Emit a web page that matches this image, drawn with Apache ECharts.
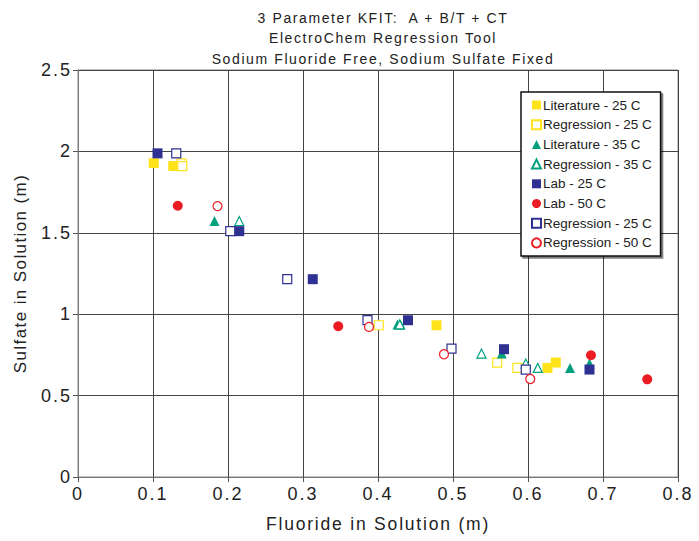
<!DOCTYPE html>
<html><head><meta charset="utf-8">
<script src="https://cdn.jsdelivr.net/npm/echarts@6/dist/echarts.min.js"></script>
<style>html,body{margin:0;padding:0;background:#fff}#c{width:699px;height:541px}</style>
</head><body><div id="c"></div>
<script>
const titleLines = ["3 Parameter KFIT:  A + B/T + CT", "ElectroChem Regression Tool", "Sodium Fluoride Free, Sodium Sulfate Fixed"];
const xName = "Fluoride in Solution (m)";
const yName = "Sulfate in Solution (m)";

const lit25 = [[0.101,1.928],[0.127,1.910],[0.478,0.932],[0.626,0.670],[0.637,0.703]];
const reg25y = [[0.138,1.926],[0.139,1.910],[0.401,0.932],[0.559,0.703],[0.586,0.670]];
const lit35 = [[0.182,1.572],[0.426,0.937],[0.430,0.937],[0.565,0.758],[0.656,0.670],[0.682,0.697]];
const reg35 = [[0.215,1.572],[0.429,0.937],[0.538,0.758],[0.597,0.697],[0.613,0.670]];
const lab25 = [[0.106,1.988],[0.215,1.510],[0.313,1.215],[0.440,0.963],[0.568,0.785],[0.682,0.660]];
const lab50 = [[0.133,1.666],[0.347,0.926],[0.684,0.748],[0.759,0.600]];
const reg25b = [[0.131,1.988],[0.203,1.510],[0.279,1.215],[0.386,0.963],[0.498,0.789],[0.597,0.660]];
const reg50 = [[0.186,1.664],[0.388,0.922],[0.488,0.754],[0.603,0.602]];

const YEL='#ffe31a', GRN='#00a07e', BLU='#2e3192', RED='#ec1c24';
function filled(name, data, sym, col){
  return {name, type:'scatter', data, symbol:sym, symbolSize:10,
    itemStyle:{color:col, opacity:1}};
}
function open(name, data, sym, col){
  return {name, type:'scatter', data, symbol:sym, symbolSize:9,
    itemStyle:{color:'#fff', borderColor:col, borderWidth:1.2, opacity:1}};
}
const chart = echarts.init(document.getElementById('c'), null, {renderer:'svg'});
const FONT = 'Liberation Sans, Arial, sans-serif';
chart.setOption({
  animation:false,
  textStyle:{fontFamily:FONT},
  title: titleLines.map((t,i)=>({text:t, left:378, top:6+i*20.3, textAlign:'center',
    textStyle:{fontSize:14, fontWeight:'normal', color:'#222', fontFamily:FONT}})),
  grid:{left:78, right:21, top:70, bottom:64, show:true, borderColor:'#888', borderWidth:1},
  xAxis:{type:'value', min:0, max:0.8, interval:0.1, name:xName, nameLocation:'middle', nameGap:38,
    nameTextStyle:{fontSize:17.5, color:'#222', fontFamily:FONT},
    axisLine:{show:true, lineStyle:{color:'#777'}}, axisTick:{show:true, length:5, lineStyle:{color:'#555'}},
    axisLabel:{fontSize:18, color:'#222', margin:8, fontFamily:FONT},
    splitLine:{show:true, lineStyle:{color:'#444', width:1}}},
  yAxis:{type:'value', min:0, max:2.5, interval:0.5, name:yName, nameLocation:'middle', nameGap:49,
    nameTextStyle:{fontSize:17, color:'#222', fontFamily:FONT},
    axisLine:{show:true, lineStyle:{color:'#777'}}, axisTick:{show:true, length:5, lineStyle:{color:'#555'}},
    axisLabel:{fontSize:18, color:'#222', margin:6, fontFamily:FONT},
    splitLine:{show:true, lineStyle:{color:'#444', width:1}}},
  legend:{orient:'vertical', left:521, top:92, backgroundColor:'#fff',
    borderColor:'#111', borderWidth:1.5, padding:[6,5,6,10], itemGap:5.7, itemWidth:9, itemHeight:9,
    textStyle:{fontSize:13.5, color:'#222', fontFamily:FONT, padding:[0,0,0,-3]},
    shadowColor:'rgba(0,0,0,0.5)', shadowOffsetX:2, shadowOffsetY:2, shadowBlur:0},
  series:[
    filled('Literature - 25 C', lit25, 'rect', YEL),
    open('Regression - 25 C ', reg25y, 'rect', YEL),
    filled('Literature - 35 C', lit35, 'triangle', GRN),
    open('Regression - 35 C', reg35, 'triangle', GRN),
    filled('Lab - 25 C', lab25, 'rect', BLU),
    filled('Lab - 50 C', lab50, 'circle', RED),
    open('Regression - 25 C', reg25b, 'rect', BLU),
    open('Regression - 50 C', reg50, 'circle', RED)
  ]
});
const spacing = {'14px':1.6, '17.5px':1.8, '17px':1.4, '18px':2};
function applySpacing(){
  document.querySelectorAll('#c text').forEach(el=>{
    const fs = getComputedStyle(el).fontSize;
    if (spacing[fs] !== undefined) el.style.letterSpacing = spacing[fs] + 'px';
  });
}
applySpacing();
chart.on('finished', applySpacing);
setTimeout(applySpacing, 0);
setTimeout(applySpacing, 100);
</script></body></html>
